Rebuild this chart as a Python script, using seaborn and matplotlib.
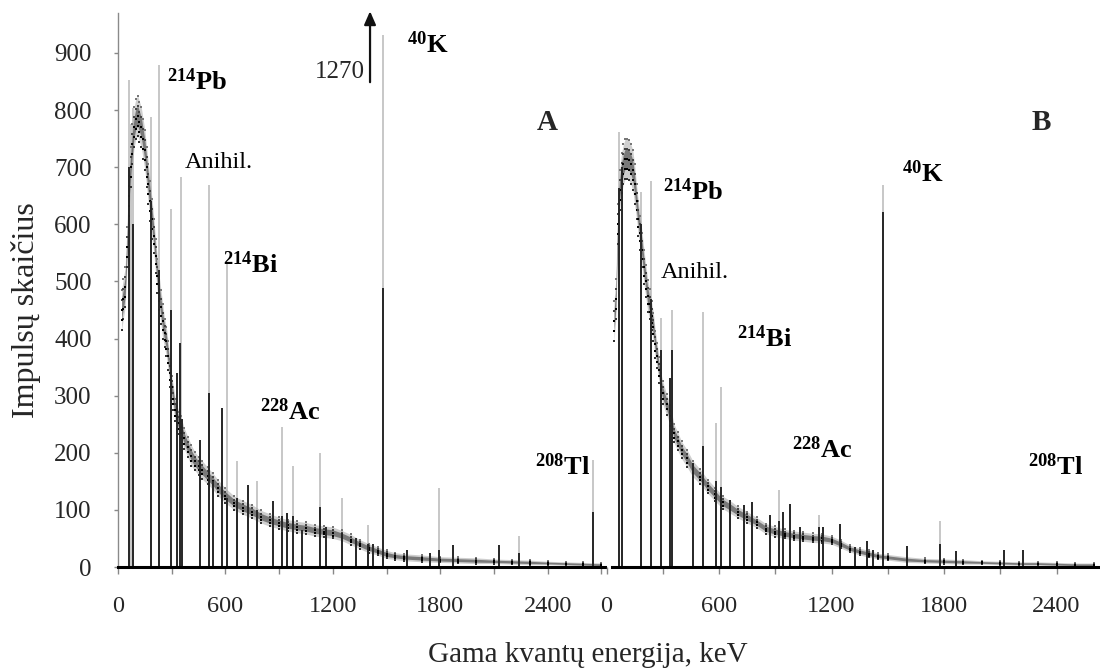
import matplotlib
matplotlib.use("Agg")
import matplotlib.pyplot as plt
import seaborn as sns
import pandas as pd
import numpy as np

# ---------------- data ----------------
# Panel A: peak lines (energy keV, height counts)
a_gray_e = [63, 72, 86, 183, 231, 294, 352, 507, 607, 663, 775, 914, 976, 1128, 1253, 1395, 1478, 1795, 2242, 2655]
a_gray_h = [853, 775, 804, 788, 879, 627, 682, 668, 532, 186, 150, 245, 177, 200, 121, 74, 932, 138, 54, 187]
a_black_e = [63, 82, 183, 231, 294, 328, 346, 358, 458, 507, 531, 583, 607, 663, 728, 775, 864, 914, 942, 976,
             1026, 1128, 1162, 1253, 1330, 1395, 1423, 1478, 1612, 1743, 1795, 1873, 2130, 2242, 2655]
a_black_h = [700, 600, 640, 520, 450, 340, 392, 260, 222, 305, 150, 278, 120, 120, 143, 100, 116, 90, 95, 90,
             65, 105, 70, 60, 50, 40, 40, 489, 30, 25, 30, 38, 38, 25, 96]
# Panel A continuum (energy, centre counts, half spread)
a_cont_e = [20, 30, 40, 50, 60, 70, 80, 90, 100, 110, 120, 130, 140, 150, 160, 170, 180, 190, 200, 210,
            220, 230, 240, 250, 260, 270, 280, 290, 300, 310, 320, 330, 340, 350, 370, 390, 410, 430, 450, 470,
            500, 530, 560, 600, 650, 700, 750, 800, 850, 900, 950, 1000, 1050, 1100, 1150, 1200, 1250, 1300,
            1350, 1400, 1450, 1500, 1550, 1600, 1700, 1800, 1900, 2000, 2100, 2200, 2300, 2400, 2500, 2600, 2700]
a_cont_v = [450, 470, 490, 560, 650, 700, 740, 770, 785, 790, 780, 770, 750, 730, 700, 670, 640, 610, 580, 545,
            510, 480, 455, 430, 410, 395, 370, 340, 315, 295, 275, 262, 252, 245, 225, 210, 195, 185, 177, 170,
            160, 150, 138, 125, 112, 104, 97, 88, 82, 77, 73, 70, 68, 64, 62, 60, 55, 48,
            40, 33, 28, 22, 19, 17, 15, 13, 12, 11, 10, 9, 8, 7, 6, 5, 4]
a_cont_s = [35, 35, 35, 35, 35, 35, 35, 35, 35, 35, 35, 35, 35, 35, 35, 35, 35, 35, 30, 30,
            30, 30, 30, 30, 25, 25, 25, 25, 20, 20, 20, 20, 20, 20, 18, 18, 18, 16, 16, 16,
            15, 14, 14, 13, 12, 12, 12, 11, 11, 10, 10, 10, 10, 10, 10, 10, 9, 9,
            8, 8, 7, 7, 6, 6, 6, 5, 5, 5, 4, 4, 4, 3, 3, 3, 3]

# Panel B
b_gray_e = [66, 185, 238, 293, 350, 513, 586, 611, 918, 1131, 1474, 1779]
b_gray_h = [762, 657, 675, 436, 450, 447, 253, 316, 135, 91, 669, 81]
b_black_e = [66, 84, 185, 238, 293, 337, 350, 462, 513, 586, 611, 661, 732, 776, 870, 918, 941, 977, 1030,
             1131, 1154, 1247, 1327, 1389, 1421, 1474, 1602, 1779, 1865, 2120, 2223]
b_black_h = [663, 701, 600, 470, 380, 331, 380, 182, 211, 150, 140, 117, 108, 114, 91, 80, 97, 110, 70,
             70, 70, 75, 35, 46, 30, 622, 36, 40, 28, 29, 30]
b_cont_e = [40, 50, 60, 70, 80, 90, 100, 110, 120, 130, 140, 150, 160, 170, 180, 190, 200, 210, 220, 230,
            240, 250, 260, 270, 280, 290, 300, 320, 340, 360, 380, 400, 430, 460, 500, 540, 580, 620, 660, 700,
            750, 800, 850, 900, 950, 1000, 1050, 1100, 1150, 1200, 1250, 1300, 1350, 1400, 1450, 1500, 1600,
            1700, 1800, 1900, 2000, 2100, 2200, 2300, 2400, 2500, 2600]
b_cont_v = [430, 470, 600, 660, 690, 705, 715, 715, 712, 705, 695, 670, 640, 610, 585, 555, 525, 500, 475, 460,
            440, 420, 390, 370, 345, 320, 305, 285, 265, 234, 220, 205, 190, 172, 158, 141, 127, 113, 105, 96,
            87, 78, 67, 62, 58, 55, 53, 51, 50, 47, 40, 32, 27, 23, 19, 17, 13,
            11, 10, 9, 8, 7, 6, 6, 5, 4, 4]
b_cont_s = [35, 35, 35, 35, 35, 35, 35, 35, 35, 35, 35, 35, 30, 30, 30, 30, 30, 28, 28, 26,
            25, 25, 24, 22, 22, 20, 20, 18, 18, 16, 16, 15, 15, 14, 13, 12, 12, 11, 11, 10,
            10, 9, 9, 9, 8, 8, 8, 8, 8, 7, 7, 6, 6, 6, 5, 5, 5,
            4, 4, 4, 3, 3, 3, 3, 3, 3, 3]

k40_true_a = 1270
x_ticks = [0, 600, 1200, 1800, 2400]
y_ticks = [0, 100, 200, 300, 400, 500, 600, 700, 800, 900]

# labels (text, energy, counts)
labels_a = [(r"$^{\mathbf{214}}\mathbf{Pb}$", 274, 835), ("Anihil.", 374, 699),
            (r"$^{\mathbf{214}}\mathbf{Bi}$", 587, 515), (r"$^{\mathbf{228}}\mathbf{Ac}$", 793, 257),
            (r"$^{\mathbf{40}}\mathbf{K}$", 1615, 900), (r"$^{\mathbf{208}}\mathbf{Tl}$", 2330, 161)]
labels_b = [(r"$^{\mathbf{214}}\mathbf{Pb}$", 301, 643), ("Anihil.", 291, 506),
            (r"$^{\mathbf{214}}\mathbf{Bi}$", 696, 385), (r"$^{\mathbf{228}}\mathbf{Ac}$", 989, 191),
            (r"$^{\mathbf{40}}\mathbf{K}$", 1576, 674), (r"$^{\mathbf{208}}\mathbf{Tl}$", 2248, 161)]

# ---------------- style ----------------
sns.set_style("white")
plt.rcParams["font.family"] = ["Liberation Serif", "DejaVu Serif"]
plt.rcParams["mathtext.fontset"] = "custom"
plt.rcParams["mathtext.rm"] = "Liberation Serif"
plt.rcParams["mathtext.bf"] = "Liberation Serif:bold"
plt.rcParams["mathtext.it"] = "Liberation Serif:italic"

W, H = 1100, 671
fig = plt.figure(figsize=(W / 100, H / 100), dpi=100)
y0, y1 = 567, 13
ymax = 970
axA = fig.add_axes([118 / W, (H - y0) / H, (605 - 118) / W, (y0 - y1) / H])
axB = fig.add_axes([606.5 / W, (H - y0) / H, (1100 - 606.5) / W, (y0 - y1) / H])
xmaxA = (605 - 118) / 0.179
xmaxB = (1100 - 606.5) / 0.1875

GRAY = "#bdbdbd"
BLACK = "#262626"


def draw(ax, ge, gh, be, bh, ce, cv, cs, xmax):
    ax.vlines(ge, 0, gh, colors=GRAY, lw=1.2, zorder=2)
    df = pd.DataFrame({"E": ce, "v": cv, "s": cs})
    df["lo"] = (df["v"] - df["s"]).clip(lower=0)
    df["hi"] = df["v"] + df["s"]
    df["mlo"] = (df["v"] - 0.5 * df["s"]).clip(lower=0)
    df["mhi"] = df["v"] + 0.5 * df["s"]
    ax.fill_between(df["E"], df["lo"], df["hi"], color="#a8a8a8", alpha=0.55, lw=0, zorder=3)
    ax.fill_between(df["E"], df["mlo"], df["mhi"], color="#333333", alpha=0.55, lw=0, zorder=3)
    for col, sz, c in (("lo", 2, "#333333"), ("hi", 2, "#777777"), ("mlo", 3, "black"),
                       ("mhi", 2, "#444444"), ("v", 3, "black")):
        sns.scatterplot(data=df, x="E", y=col, ax=ax, color=c, s=sz, marker="s",
                        linewidth=0, zorder=4, legend=False)
    ax.vlines(be, 0, bh, colors=BLACK, lw=1.4, zorder=5)
    ax.set_xlim(0, xmax)
    ax.set_ylim(0, ymax)
    ax.set_xlabel("")
    ax.set_ylabel("")
    ax.set_xticks(x_ticks)
    ax.set_xticks(np.arange(300, xmax, 600), minor=True)
    ax.tick_params(axis="x", which="both", direction="out", length=5, width=1, color="#888888",
                   labelsize=17.5, pad=16, bottom=True)
    for s in ("top", "right"):
        ax.spines[s].set_visible(False)
    ax.spines["bottom"].set_color("black")
    ax.spines["bottom"].set_linewidth(2.2)
    ax.spines["bottom"].set_zorder(6)
    ax.patch.set_alpha(0)


draw(axA, a_gray_e, a_gray_h, a_black_e, a_black_h, a_cont_e, a_cont_v, a_cont_s, xmaxA)
draw(axB, b_gray_e, b_gray_h, b_black_e, b_black_h, b_cont_e, b_cont_v, b_cont_s, xmaxB)

axA.set_yticks(y_ticks)
axA.tick_params(axis="y", direction="out", length=3, width=1, color="#888888", labelsize=18, pad=16, left=True)
axA.spines["left"].set_color("#8a8a8a")
axA.spines["left"].set_linewidth(1.0)
axB.spines["left"].set_visible(False)
axB.set_yticks([])
axB.spines["bottom"].set_bounds(30, xmaxB)

for ax, labs in ((axA, labels_a), (axB, labels_b)):
    for t, e, v in labs:
        if t.startswith("$"):
            ax.text(e, v, t, fontsize=19, ha="left", va="baseline", color="black", zorder=7)
        else:
            ax.text(e, v, t, fontsize=17.5, ha="left", va="baseline", color="black", zorder=7)

axA.text(2341, 765, "A", fontsize=21, fontweight="bold", ha="left", va="baseline")
axB.text(2269, 765, "B", fontsize=21, fontweight="bold", ha="left", va="baseline")

# 40K overflow arrow in panel A
axA.annotate("", xy=(1408, 978), xytext=(1408, 844), annotation_clip=False,
             arrowprops=dict(arrowstyle="-|>,head_length=0.8,head_width=0.35", color="#111111", lw=1.6))
axA.text(1380, 856, str(k40_true_a), fontsize=18, ha="right", va="baseline")

fig.text(588 / W, 1 - 655 / H, "Gama kvantų energija, keV", fontsize=21, ha="center", va="center")
fig.text(26 / W, 1 - 310 / H, "Impulsų skaičius", fontsize=23, rotation=90, ha="center", va="center")

fig.savefig("out.png", dpi=100)
